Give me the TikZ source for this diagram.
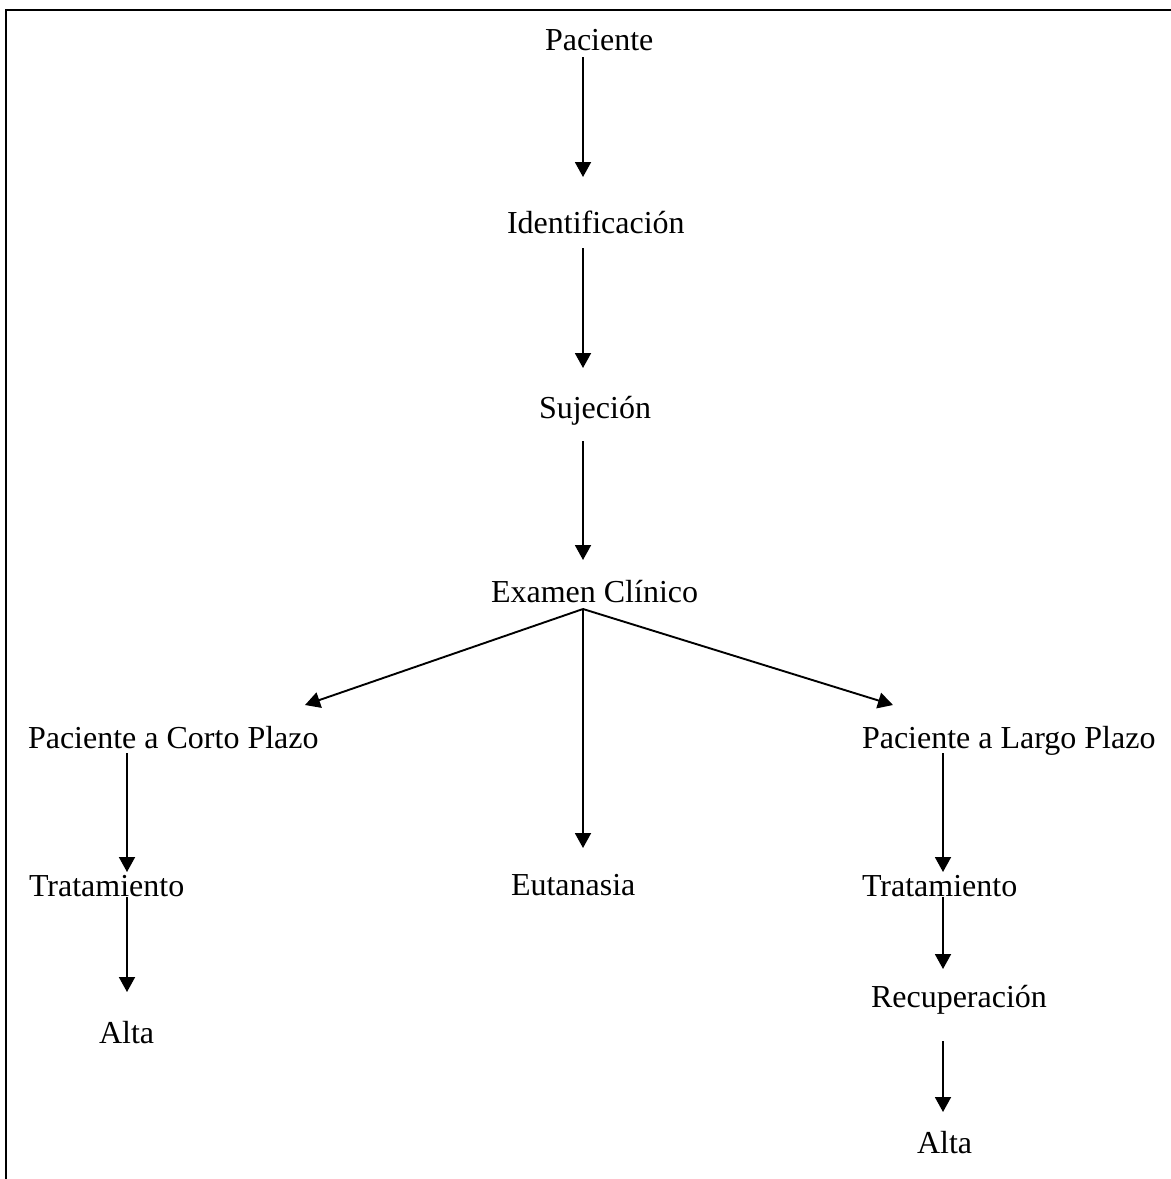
\documentclass[tikz,border=0pt]{standalone}
\usepackage{fontspec}
\setmainfont{Liberation Serif}
\usetikzlibrary{arrows.meta}
\begin{document}
\begin{tikzpicture}[x=0.5pt,y=-0.5pt,
  lbl/.style={anchor=base west,inner sep=0pt,outer sep=0pt,font=\fontsize{16}{19}\selectfont},
  arr/.style={line width=0.95pt,-{Triangle[length=7.5pt,width=8pt]}},
  frame/.style={line width=1pt,black}]
\useasboundingbox[fill=white] (0,0) rectangle (1171,1179);
% frame (open at right and bottom)
\coordinate (fbl) at (6,1179);
\coordinate (ftl) at (6,10);
\coordinate (ftr) at (1171,10);
\draw[frame] (fbl) -- (ftl) -- (ftr);
% nodes
\node[lbl] (pac) at (545,50) {Paciente};
\node[lbl] (ide) at (507,233) {Identificación};
\node[lbl] (suj) at (539,418) {Sujeción};
\node[lbl] (exa) at (491,602) {Examen Clínico};
\node[lbl] (pcp) at (28,748) {Paciente a Corto Plazo};
\node[lbl] (eut) at (511,895) {Eutanasia};
\node[lbl] (plp) at (862,748) {Paciente a Largo Plazo};
\node[lbl] (trl) at (29,896) {Tratamiento};
\node[lbl] (trr) at (862,896) {Tratamiento};
\node[lbl] (rec) at (871,1007) {Recuperación};
\node[lbl] (alf) at (99,1043) {Alta};
\node[lbl] (alr) at (917,1153) {Alta};
% connector end points
\coordinate (pac-o) at (583,57);   \coordinate (ide-i) at (583,177);
\coordinate (ide-o) at (583,248);  \coordinate (suj-i) at (583,368);
\coordinate (suj-o) at (583,441);  \coordinate (exa-i) at (583,560);
\coordinate (exa-o) at (583,609);
\coordinate (pcp-i) at (305,705);  \coordinate (plp-i) at (893,705);
\coordinate (eut-i) at (583,848);
\coordinate (pcp-o) at (127,753);  \coordinate (trl-i) at (127,872);
\coordinate (trl-o) at (127,897);  \coordinate (alf-i) at (127,992);
\coordinate (plp-o) at (943,753);  \coordinate (trr-i) at (943,872);
\coordinate (trr-o) at (943,897);  \coordinate (rec-i) at (943,969);
\coordinate (rec-o) at (943,1041); \coordinate (alr-i) at (943,1112);
% connectors
\draw[arr] (pac-o) -- (ide-i);
\draw[arr] (ide-o) -- (suj-i);
\draw[arr] (suj-o) -- (exa-i);
\draw[arr] (exa-o) -- (pcp-i);
\draw[arr] (exa-o) -- (eut-i);
\draw[arr] (exa-o) -- (plp-i);
\draw[arr] (pcp-o) -- (trl-i);
\draw[arr] (trl-o) -- (alf-i);
\draw[arr] (plp-o) -- (trr-i);
\draw[arr] (trr-o) -- (rec-i);
\draw[arr] (rec-o) -- (alr-i);
\end{tikzpicture}
\end{document}
